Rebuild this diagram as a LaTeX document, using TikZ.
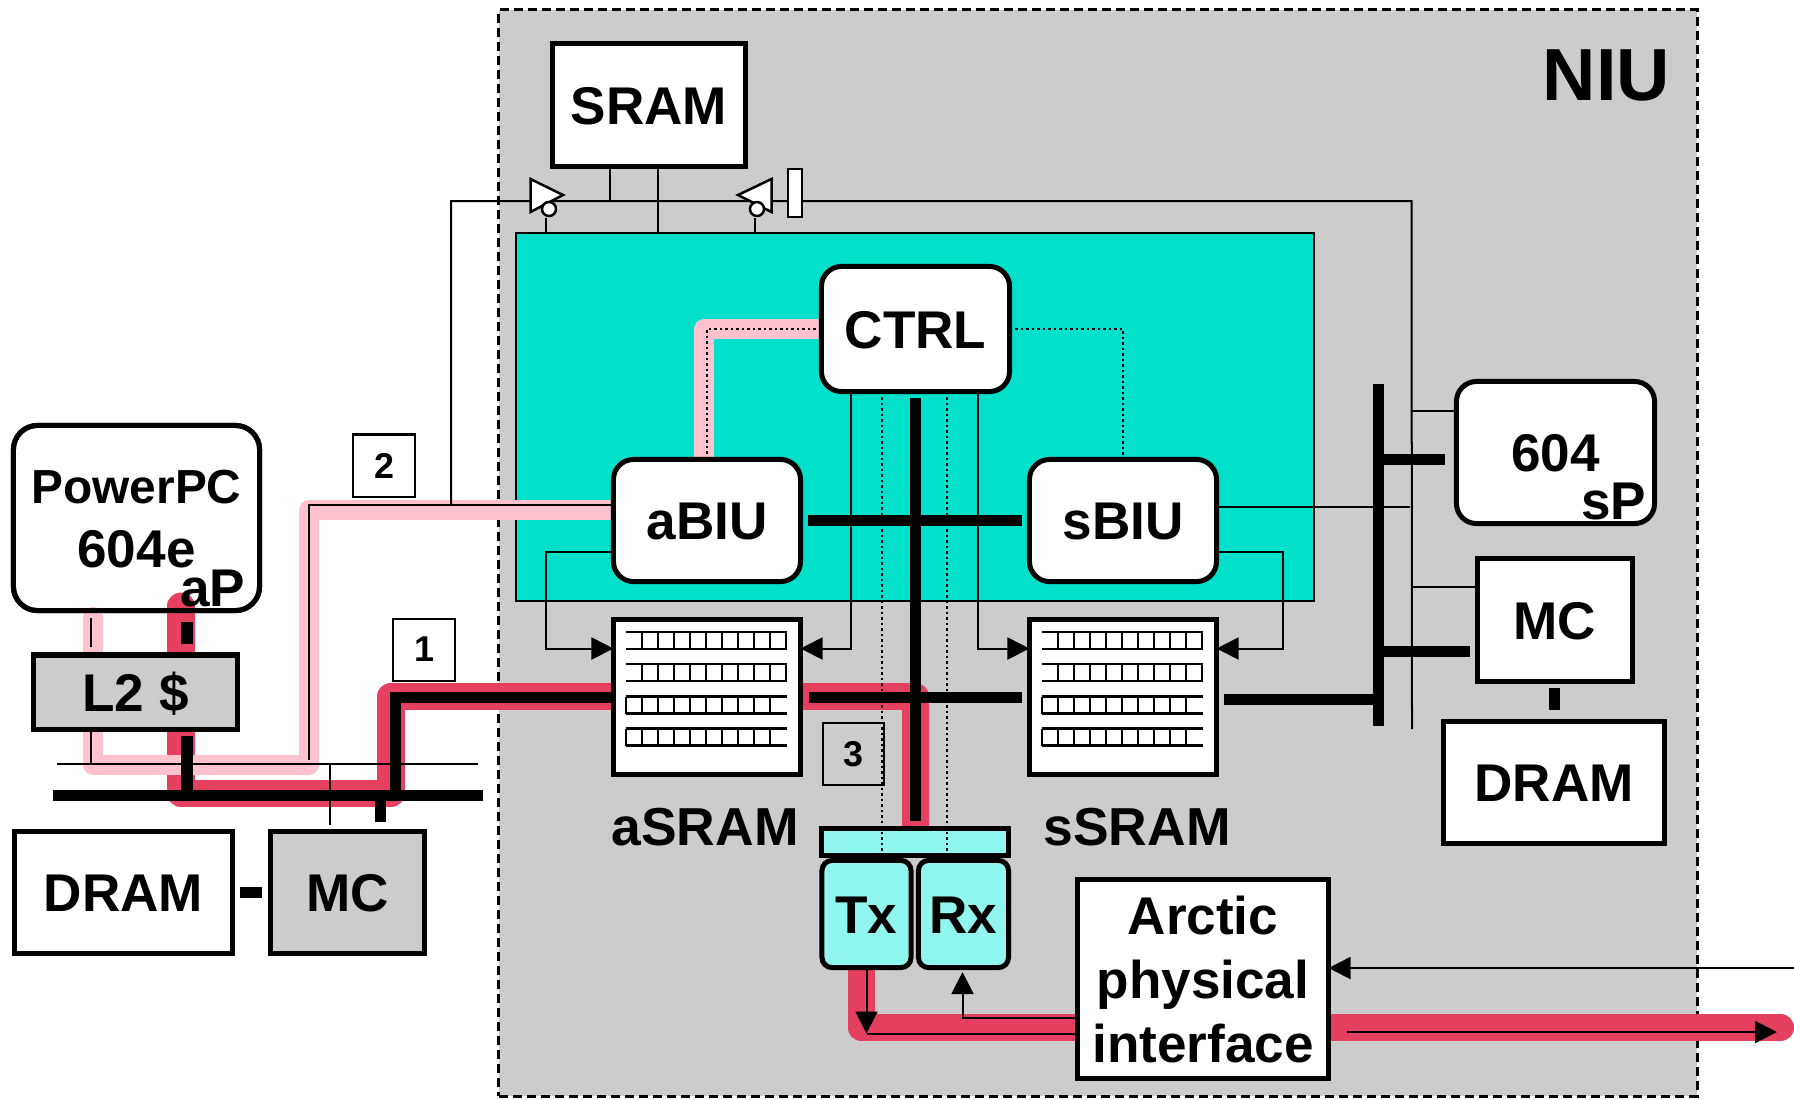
\documentclass[tikz,border=0pt]{standalone}
\usepackage{fontspec}
\setmainfont{Liberation Sans}
\usepackage{tikz}
\usetikzlibrary{arrows.meta}

\definecolor{nifgray}{HTML}{CCCCCC}
\definecolor{coreteal}{HTML}{00E0CA}
\definecolor{linkaqua}{HTML}{90F6EE}
\definecolor{pathred}{HTML}{E64060}
\definecolor{pathpink}{HTML}{FFC2CE}

\newcommand{\lblfont}{\fontsize{15.1}{18.2}\selectfont\bfseries}
\newcommand{\ppcfont}{\fontsize{13.6}{18}\selectfont\bfseries}
\newcommand{\tagfont}{\fontsize{10.2}{12}\selectfont\bfseries}

\tikzset{
  box/.style={draw,line width=0.05cm,fill=white,inner sep=0pt,outer sep=0pt,text height=0.385cm,text depth=0pt,font=\lblfont,align=center},
  softbox/.style={box,rounded corners=0.2cm},
  tag/.style={draw,line width=0.02cm,inner sep=0pt,outer sep=0pt,minimum width=0.61cm,minimum height=0.62cm,font=\tagfont},
  lbl/.style={inner sep=0pt,outer sep=0pt,font=\lblfont},
  wire/.style={line width=0.02cm},
  sigarrow/.style={wire,-{Triangle[length=0.22cm,width=0.22cm]}},
  dotwire/.style={line width=0.025cm,dash pattern=on 0.025cm off 0.03cm},
  heavy/.style={line width=0.11cm},
  redpath/.style={pathred,line width=0.27cm,line cap=round,line join=round},
  pinkpath/.style={pathpink,line width=0.2cm,line cap=round,line join=round},
  cell/.style={line width=0.025cm},
  tribuf/.style={draw,fill=white,line width=0.025cm,line join=miter}
}

\begin{document}
\begin{tikzpicture}[x=0.01cm,y=-0.01cm]
    \useasboundingbox (0,0) rectangle (1794,1099);

    % free ends and bends
    \foreach \cname/\cx/\cy in {
        rA/181/606, rB/391/793.5, rC/915/696, rD/915/826, rE/861/960, rF/1780.5/1027.5,
        pA/93/617, pB/309/765, pC/620/510, pD/704/329,
        stA/187/622, stB/187/644, stC/187/736, stD/187/790,
        busAl/53/795.5, busAr/483/795.5, tbusl/57/764, tbusr/478/764,
        mcA/380/801, mcB/380/822, upA/395/790, upB/395/697,
        drA/240/892, drB/262/892,
        hiA/807.5/520.5, hiB/1021.5/520.5, veA/915/398, veB/915/821,
        loA/808.5/697, loB/1022/697, srA/1224/699.5, srB/1374/699.5,
        sbT/1378.5/384, sbB/1378.5/726, spA/1384/459.5, spB/1445/459.5,
        smA/1384/651.5, smB/1470/651.5, mdA/1554.5/688, mdB/1554.5/710,
        thA/90.5/618, thB/90.5/647, thC/90.5/732, thD/90.5/764, thE/330/764, thF/330/825,
        wA/309/760, wB/451/505, wC/1411.5/201, wD/1412/729,
        srmA/610/201, srmB/658/232, enA/546/218, enB/754.5/218,
        sbi/1410/507, spt/1412/411, mct/1413/587,
        ctA/850.5/648.5, ctB/978/648.5, dtA/882/857, dtB/947/857, dtC/707/329,
        eA/546/552, eB/546/648.5, fA/1282.5/552, fB/1282.5/648.5,
        txA/866.5/1033.5, rxA/962.5/1018, rxB/962.5/972,
        inA/1794/968, outA/1347/1032, outB/1777/1032}
        \coordinate (\cname) at (\cx,\cy);

    \node[draw,fill=nifgray,dashed,dash pattern=on 0.09cm off 0.05cm,line width=0.027cm,minimum width=11.98cm,minimum height=10.86cm,outer sep=0pt] (niu) at (1098,553) {};
    \node[draw,fill=coreteal,line width=0.02cm,minimum width=7.98cm,minimum height=3.67cm,outer sep=0pt] (core) at (915,417) {};
    \node[lbl,anchor=base east,font=\fontsize{21}{24}\selectfont\bfseries] (niulbl) at (1670,100) {NIU};

    \node[softbox,rounded corners=0.24cm,minimum width=2.46cm,minimum height=1.85cm] (ppc) at (136.5,518) {};
    \node[lbl,align=center] (ppclbl) at (136.5,519.5) {{\ppcfont PowerPC}\\604e};

    % data paths
    \draw[redpath] (rA) |- (rB) |- (rC) -- (rD);
    \draw[redpath] (rE) |- (rF);
    \draw[pinkpath] (pA) |- (pB) |- (pC);
    \draw[pinkpath] (ctA |- pD) -- (pD) -- (pD |- eA);
    \node[softbox,rounded corners=0.24cm,fill=none,minimum width=2.46cm,minimum height=1.85cm] (ppcedge) at (136.5,518) {};

    \node[box,fill=nifgray,minimum width=2.04cm,minimum height=0.74cm] (ltwo) at (135.5,692) {L2 \$};
    \node[box,minimum width=2.18cm,minimum height=1.22cm] (dramL) at (123.5,892.5) {DRAM};
    \node[box,fill=nifgray,minimum width=1.54cm,minimum height=1.22cm] (mcL) at (347.5,892.5) {MC};
    \node[box,minimum width=1.93cm,minimum height=1.23cm] (sram) at (649,105) {SRAM};
    \node[softbox,minimum width=1.88cm,minimum height=1.25cm] (ctrl) at (915.5,329) {CTRL};
    \node[softbox,minimum width=1.87cm,minimum height=1.22cm] (abiu) at (707,520.5) {aBIU};
    \node[softbox,minimum width=1.87cm,minimum height=1.22cm] (sbiu) at (1123,520.5) {sBIU};
    \node[box,minimum width=1.87cm,minimum height=1.55cm] (asram) at (707,697) {};
    \node[box,minimum width=1.87cm,minimum height=1.55cm] (ssram) at (1123,697) {};
    \node[box,text height=,fill=linkaqua,minimum width=1.87cm,minimum height=0.27cm] (txbar) at (915,842) {};
    \node[softbox,rounded corners=0.1cm,fill=linkaqua,minimum width=0.89cm,minimum height=1.07cm] (tx) at (866.5,914) {Tx};
    \node[softbox,rounded corners=0.1cm,fill=linkaqua,minimum width=0.9cm,minimum height=1.07cm] (rx) at (963.5,914) {Rx};
    \node[box,text height=,minimum width=2.51cm,minimum height=1.99cm] (arctic) at (1203,979) {Arctic\\physical\\interface};
    \node[softbox,minimum width=1.98cm,minimum height=1.42cm] (spu) at (1555.5,452.5) {604};
    \node[box,minimum width=1.55cm,minimum height=1.23cm] (mcR) at (1555,620) {MC};
    \node[box,minimum width=2.21cm,minimum height=1.22cm] (dramR) at (1554,782.5) {DRAM};

    % memory rows
    \foreach \sx in {0,416} {
        \foreach \ry in {632,664,696.5,728.5} {
            \draw[cell] (\sx+626,\ry) -- (\sx+787,\ry);
            \draw[cell] (\sx+626,\ry+17) -- (\sx+787,\ry+17);
        }
        \foreach \cc in {0,...,9} {
            \draw[cell] (\sx+642+16*\cc,632) -- (\sx+642+16*\cc,649);
            \draw[cell] (\sx+642+16*\cc,664) -- (\sx+642+16*\cc,681);
            \draw[cell] (\sx+626+16*\cc,696.5) -- (\sx+626+16*\cc,713.5);
            \draw[cell] (\sx+626+16*\cc,728.5) -- (\sx+626+16*\cc,745.5);
        }
    }

    % thin signals
    \draw[wire] (thA) -- (thB);
    \draw[wire] (thC) -- (thD);
    \draw[wire] (tbusl) -- (tbusr);
    \draw[wire] (thE) -- (thF);
    \draw[wire] (wA) |- (abiu.west |- wB);
    \draw[wire] (wB) |- (wC) -- (wD);
    \draw[wire] (sram.south -| srmA) -- (srmA);
    \draw[wire] (sram.south -| srmB) -- (srmB);
    \draw[wire] (enA) -- (core.north -| enA);
    \draw[wire] (enB) -- (core.north -| enB);
    \draw[wire] (sbiu.east |- sbi) -- (sbi);
    \draw[wire] (spt) -- (spu.west |- spt);
    \draw[wire] (mct) -- (mcR.west |- mct);
    \draw[sigarrow] (ctrl.south -| ctA) |- (asram.east |- ctA);
    \draw[sigarrow] (ctrl.south -| ctB) |- (ssram.west |- ctB);
    \draw[sigarrow] (abiu.west |- eA) -- (eA) -- (eB) -- (asram.west |- eB);
    \draw[sigarrow] (sbiu.east |- fA) -- (fA) -- (fB) -- (ssram.east |- fB);
    \draw[sigarrow] (tx.south -| txA) -- (txA);
    \draw[wire] (txA) -- (arctic.west |- txA);
    \draw[sigarrow] (arctic.west |- rxA) -- (rxA) -- (rxB);
    \draw[sigarrow] (inA) -- (arctic.east |- inA);
    \draw[sigarrow] (outA) -- (outB);

    % bus buffers
    \draw[tribuf] (530.5,179) -- (563,195) -- (530.5,212) -- cycle;
    \draw[tribuf] (771.5,179) -- (738,195) -- (771.5,212) -- cycle;
    \node[circle,draw,fill=white,line width=0.025cm,minimum size=0.14cm,inner sep=0pt] (enbufA) at (549,209) {};
    \node[circle,draw,fill=white,line width=0.025cm,minimum size=0.14cm,inner sep=0pt] (enbufB) at (757,209) {};
    \node[draw,fill=white,line width=0.025cm,minimum width=0.14cm,minimum height=0.48cm,inner sep=0pt] (oebar) at (795,193) {};

    % dotted control
    \draw[dotwire] (ctrl.west) -| (abiu.north -| dtC);
    \draw[dotwire] (ctrl.east) -| (sbiu.north);
    \draw[dotwire] (ctrl.south -| dtA) -- (dtA);
    \draw[dotwire] (ctrl.south -| dtB) -- (dtB);

    % heavy buses
    \draw[heavy] (stA) -- (stB);
    \draw[heavy] (stC) -- (stD);
    \draw[heavy] (busAl) -- (busAr);
    \draw[heavy] (mcA) -- (mcB);
    \draw[heavy] (upA) -- (upB) -- (asram.west |- upB);
    \draw[heavy] (drA) -- (drB);
    \draw[heavy] (hiA) -- (hiB);
    \draw[heavy] (veA) -- (veB);
    \draw[heavy] (loA) -- (loB);
    \draw[heavy] (srA) -- (srB);
    \draw[heavy] (sbT) -- (sbB);
    \draw[heavy] (spA) -- (spB);
    \draw[heavy] (smA) -- (smB);
    \draw[heavy] (mdA) -- (mdB);

    % labels
    \node[lbl,anchor=base east] (aplbl) at (245,606) {aP};
    \node[lbl,anchor=base east] (splbl) at (1646,519) {sP};
    \node[lbl,anchor=base west,font=\fontsize{15.2}{18}\selectfont\bfseries] (asramlbl) at (611.5,845) {aSRAM};
    \node[lbl,anchor=base west,font=\fontsize{15.2}{18}\selectfont\bfseries] (ssramlbl) at (1043.5,845) {sSRAM};
    \node[tag,fill=white] (tagtwo) at (384,465.5) {2};
    \node[tag,fill=white] (tagone) at (424,649.5) {1};
    \node[tag] (tagthree) at (853.5,754) {3};
\end{tikzpicture}
\end{document}
